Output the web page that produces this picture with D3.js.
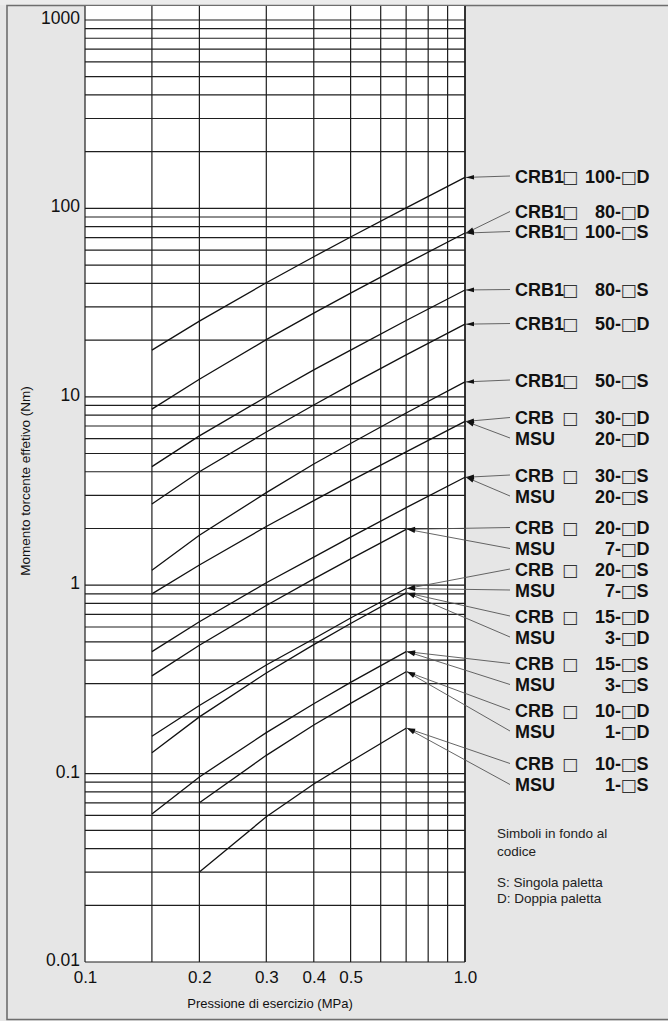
<!DOCTYPE html>
<html>
<head>
<meta charset="UTF-8">
<script src="https://d3js.org/d3.v7.min.js"></script>
<style>
  body { margin: 0; background: #e6e6e6; }
  svg { display: block; font-family: "Liberation Sans", Arial, sans-serif; }
</style>
</head>
<body>
<div id="chart"></div>
<script>
// pressure points (MPa) where the curves are read
var pressure = [0.15, 0.2, 0.3, 0.4, 0.5, 0.7, 1.0];

// torque (Nm) for each curve, null where the curve does not exist
var c1  = [17.7, 25.2, 40.3, 55.4, 70.5, 100.7, 146];
var c2  = [8.6, 12.4, 20.1, 27.8, 35.5, 50.9, 74];
var c3  = [4.26, 6.2, 10.0, 13.9, 17.7, 25.4, 36.9];
var c4  = [2.7, 4.0, 6.5, 9.05, 11.6, 16.7, 24.3];
var c5  = [1.2, 1.84, 3.1, 4.4, 5.65, 8.2, 12];
var c6  = [0.9, 1.28, 2.05, 2.81, 3.58, 5.1, 7.4];
var c7  = [0.444, 0.64, 1.03, 1.41, 1.8, 2.58, 3.74];
var c8  = [0.33, 0.48, 0.78, 1.08, 1.38, 1.98, null];
var c9  = [0.158, 0.23, 0.377, 0.52, 0.67, 0.96, null];
var c10 = [0.129, 0.2, 0.342, 0.484, 0.626, 0.91, null];
var c11 = [0.061, 0.096, 0.165, 0.235, 0.305, 0.444, null];
var c12 = [null, 0.07, 0.125, 0.181, 0.236, 0.347, null];
var c13 = [null, 0.030, 0.059, 0.088, 0.116, 0.174, null];
var curves = [c1, c2, c3, c4, c5, c6, c7, c8, c9, c10, c11, c12, c13];

// model labels, the curve each one points to
var labelPrefix = ["CRB1", "CRB1", "CRB1", "CRB1", "CRB1", "CRB1", "CRB", "MSU", "CRB", "MSU", "CRB", "MSU",
                   "CRB", "MSU", "CRB", "MSU", "CRB", "MSU", "CRB", "MSU", "CRB", "MSU"];
var labelSize   = ["100", "80", "100", "80", "50", "50", "30", "20", "30", "20", "20", "7",
                   "20", "7", "15", "3", "15", "3", "10", "1", "10", "1"];
var labelType   = ["D", "D", "S", "S", "D", "S", "D", "D", "S", "S", "D", "D",
                   "S", "S", "D", "D", "S", "S", "D", "D", "S", "S"];
var labelCurve  = [0, 1, 1, 2, 3, 4, 5, 5, 6, 6, 7, 7, 8, 8, 9, 9, 10, 10, 11, 11, 12, 12];

// grid and ticks
var xGrid = [0.1, 0.15, 0.2, 0.3, 0.4, 0.5, 0.6, 0.7, 0.8, 0.9, 1.0];
var xTicks = [0.1, 0.2, 0.3, 0.4, 0.5, 1.0];
var xTickLabels = ["0.1", "0.2", "0.3", "0.4", "0.5", "1.0"];
var yTicks = [0.01, 0.1, 1, 10, 100, 1000];
var yTickLabels = ["0.01", "0.1", "1", "10", "100", "1000"];

var noteLines = ["Simboli in fondo al", "codice", "", "S: Singola paletta", "D: Doppia paletta"];

// label vertical positions (layout)
var labelY = [176, 211.5, 231.5, 289.5, 323.5, 380, 417.5, 438, 475, 496, 527.5, 548.5,
              569, 590, 616, 637, 663.5, 684.5, 710, 731, 763.5, 784.5];

var W = 668, H = 1021;
var plotTop = 6;

var svg = d3.select("#chart").append("svg")
  .attr("width", W)
  .attr("height", H);

var x = d3.scaleLog().domain([0.1, 1]).range([85, 465]);
var y = d3.scaleLog().domain([0.01, 1000]).range([962, 20]);

// background + frame
svg.append("rect").attr("x", 0).attr("y", 0).attr("width", W).attr("height", H).attr("fill", "#e6e6e6");
svg.append("rect").attr("x", 0).attr("y", 0).attr("width", W).attr("height", 5).attr("fill", "#ececec");
svg.append("path")
  .attr("d", "M" + W + ",5.5 H7 V1019.5 H" + W)
  .attr("fill", "none").attr("stroke", "#6e6e6e").attr("stroke-width", 1.6);

// plot area
svg.append("rect")
  .attr("x", x(0.1)).attr("y", plotTop)
  .attr("width", x(1) - x(0.1)).attr("height", y(0.01) - plotTop)
  .attr("fill", "#fff");

// horizontal grid lines: 1..9 in each decade
var hGrid = [];
for (var e = -2; e <= 2; e++) {
  for (var m = 1; m <= 9; m++) hGrid.push(m * Math.pow(10, e));
}
hGrid.push(1000);

var grid = svg.append("g").attr("stroke", "#1e1e1e").attr("stroke-width", 1.2);
grid.selectAll(".hg").data(hGrid).enter().append("line")
  .attr("x1", x(0.1)).attr("x2", x(1))
  .attr("y1", function(d) { return y(d); })
  .attr("y2", function(d) { return y(d); });
grid.selectAll(".vg").data(xGrid).enter().append("line")
  .attr("x1", function(d) { return x(d); })
  .attr("x2", function(d) { return x(d); })
  .attr("y1", plotTop).attr("y2", y(0.01))
  .attr("stroke-width", function(d) { return d == 1 ? 1.8 : 1.2; });

// axes (labels only)
var yAxis = svg.append("g")
  .attr("transform", "translate(" + x(0.1) + ",0)")
  .call(d3.axisLeft(y).tickValues(yTicks).tickSize(0).tickPadding(5)
    .tickFormat(function(d, i) { return yTickLabels[i]; }));
yAxis.select(".domain").remove();
yAxis.selectAll("text").attr("font-size", "17.5px").attr("fill", "#111").attr("dy", "0.2em")
  .attr("font-family", "Liberation Sans, Arial, sans-serif");

var xAxis = svg.append("g")
  .attr("transform", "translate(0," + y(0.01) + ")")
  .call(d3.axisBottom(x).tickValues(xTicks).tickSize(0).tickPadding(9)
    .tickFormat(function(d, i) { return xTickLabels[i]; }));
xAxis.select(".domain").remove();
xAxis.selectAll("text").attr("font-size", "17px").attr("fill", "#111")
  .attr("font-family", "Liberation Sans, Arial, sans-serif");

svg.append("text")
  .attr("x", 270).attr("y", 1008)
  .attr("text-anchor", "middle")
  .attr("font-size", "13px").attr("fill", "#111")
  .text("Pressione di esercizio (MPa)");

svg.append("text")
  .attr("transform", "translate(30,481) rotate(-90)")
  .attr("text-anchor", "middle")
  .attr("font-size", "13.5px").attr("fill", "#111")
  .text("Momento torcente effetivo (Nm)");

// curves
var line = d3.line()
  .defined(function(d) { return d[1] != null; })
  .x(function(d) { return x(d[0]); })
  .y(function(d) { return y(d[1]); });

svg.append("g").selectAll("path").data(curves).enter().append("path")
  .attr("d", function(c) { return line(pressure.map(function(p, i) { return [p, c[i]]; })); })
  .attr("fill", "none")
  .attr("stroke", "#111")
  .attr("stroke-width", 1.3);

// end point of a curve
function endOf(ci) {
  var c = curves[ci];
  for (var i = c.length - 1; i >= 0; i--) {
    if (c[i] != null) return [x(pressure[i]) + 1, y(c[i])];
  }
}

// leaders with arrowheads
var leaders = svg.append("g");
labelY.forEach(function(ly, i) {
  var tip = endOf(labelCurve[i]);
  var lx = 510;
  leaders.append("line")
    .attr("x1", lx).attr("y1", ly)
    .attr("x2", tip[0]).attr("y2", tip[1])
    .attr("stroke", "#555").attr("stroke-width", 0.9);
  var a = Math.atan2(ly - tip[1], lx - tip[0]);
  var len = 8, half = 2.3;
  var p1 = [tip[0] + len * Math.cos(a) - half * Math.sin(a), tip[1] + len * Math.sin(a) + half * Math.cos(a)];
  var p2 = [tip[0] + len * Math.cos(a) + half * Math.sin(a), tip[1] + len * Math.sin(a) - half * Math.cos(a)];
  leaders.append("path")
    .attr("d", "M" + tip + "L" + p1 + "L" + p2 + "Z")
    .attr("fill", "#111");
});

// model labels: name, box, size, dash, box, vane type
var labels = svg.append("g")
  .attr("font-size", "18px").attr("font-weight", "bold").attr("fill", "#111");
function box(xp, base) {
  labels.append("text").attr("x", xp).attr("y", base)
    .attr("font-family", "DejaVu Sans").attr("font-weight", "normal").attr("font-size", "17px")
    .attr("fill", "#333")
    .text("\u25A1");
}
labelY.forEach(function(ly, i) {
  var base = ly + 6.5;
  labels.append("text").attr("x", 515).attr("y", base).text(labelPrefix[i]);
  if (labelPrefix[i] != "MSU") box(562, base);
  labels.append("text").attr("x", 615).attr("y", base).attr("text-anchor", "end").text(labelSize[i]);
  labels.append("text").attr("x", 615).attr("y", base).text("-");
  box(620.5, base);
  labels.append("text").attr("x", 636.5).attr("y", base).text(labelType[i]);
});

// note
var note = svg.append("g").attr("font-size", "13.5px").attr("fill", "#222");
noteLines.forEach(function(s, i) {
  var yy = [838, 855.5, 871, 887, 903][i];
  if (s) note.append("text").attr("x", 497).attr("y", yy).text(s);
});
</script>
</body>
</html>
